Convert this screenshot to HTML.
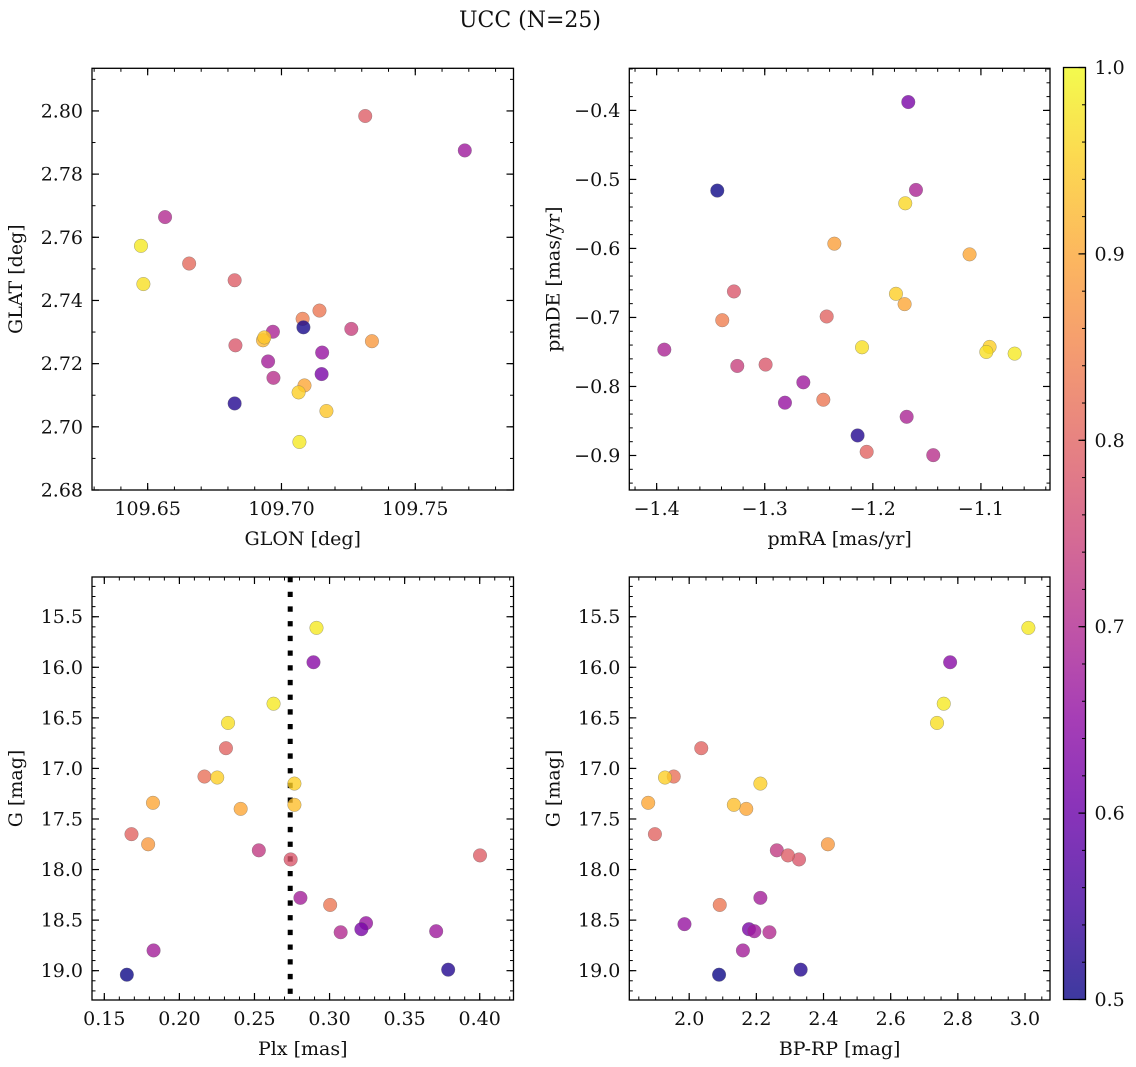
<!DOCTYPE html>
<html><head><meta charset="utf-8"><style>
html,body{margin:0;padding:0;background:#fff;}
svg{display:block;font-family:"DejaVu Serif","Liberation Serif",serif;}
</style></head><body>
<svg id="fig" width="1136" height="1067" viewBox="0 0 1136 1067" xmlns="http://www.w3.org/2000/svg">
<text x="530" y="27" text-anchor="middle" font-size="22" fill="#111">UCC (N=25)</text>
<defs>
<linearGradient id="plasma" x1="0" y1="1" x2="0" y2="0">
<stop offset="0" stop-color="#0d0887"/><stop offset="0.1" stop-color="#41049d"/><stop offset="0.2" stop-color="#6a00a8"/><stop offset="0.3" stop-color="#8f0da4"/><stop offset="0.4" stop-color="#b12a90"/><stop offset="0.5" stop-color="#cc4778"/><stop offset="0.6" stop-color="#e16462"/><stop offset="0.7" stop-color="#f2844b"/><stop offset="0.8" stop-color="#fca636"/><stop offset="0.9" stop-color="#fcce25"/><stop offset="1" stop-color="#f0f921"/>
</linearGradient>
</defs>
</svg>
<script>
// ---- data: panel 1 (GLON vs GLAT)
const glon1 = [109.7313,109.7685,109.6565,109.6475,109.6655,109.6484,109.6825,109.7142,109.7079,109.7082,109.7261,109.6968,109.6828,109.6931,109.6936,109.7338,109.7152,109.6950,109.6970,109.7150,109.7086,109.7064,109.6825,109.7168,109.7067];
const glat1 = [2.7984,2.7875,2.7664,2.7573,2.7517,2.7452,2.7464,2.7368,2.7342,2.7315,2.7310,2.7301,2.7258,2.7274,2.7283,2.7271,2.7235,2.7207,2.7155,2.7167,2.7131,2.7109,2.7074,2.7050,2.6952];
const prob1 = [0.79,0.67,0.70,0.98,0.81,0.97,0.79,0.83,0.84,0.51,0.74,0.69,0.78,0.92,0.94,0.88,0.66,0.68,0.71,0.62,0.90,0.95,0.52,0.94,0.98];
// ---- panel 2 (pmRA vs pmDE)
const pmra2 = [-1.1672,-1.3439,-1.1601,-1.1700,-1.2356,-1.1105,-1.3285,-1.1786,-1.1706,-1.3393,-1.2427,-1.3929,-1.2100,-1.0920,-1.0950,-1.0688,-1.3254,-1.2992,-1.2643,-1.2813,-1.2458,-1.1687,-1.2141,-1.2057,-1.1441];
const pmde2 = [-0.3879,-0.5162,-0.5152,-0.5346,-0.5931,-0.6086,-0.6623,-0.6657,-0.6807,-0.7040,-0.6986,-0.7466,-0.7432,-0.7427,-0.7500,-0.7524,-0.7703,-0.7683,-0.7940,-0.8235,-0.8192,-0.8439,-0.8710,-0.8947,-0.8995];
const prob2 = [0.62,0.50,0.69,0.96,0.89,0.90,0.78,0.95,0.90,0.84,0.80,0.69,0.97,0.95,0.97,0.98,0.74,0.78,0.67,0.66,0.83,0.69,0.52,0.80,0.71];
// ---- panel 3 (Plx vs G)
const plx3 = [0.2913,0.2893,0.2627,0.2324,0.2310,0.2167,0.2252,0.2766,0.1824,0.2408,0.2766,0.1681,0.1792,0.2529,0.2741,0.4002,0.2806,0.3004,0.3243,0.3074,0.3212,0.3710,0.1828,0.1650,0.3790];
const g3 = [15.61,15.95,16.36,16.55,16.80,17.08,17.09,17.15,17.34,17.40,17.36,17.65,17.75,17.81,17.90,17.86,18.28,18.35,18.53,18.62,18.59,18.61,18.80,19.04,18.99];
const prob3 = [0.98,0.64,0.98,0.97,0.80,0.82,0.95,0.95,0.90,0.90,0.93,0.80,0.88,0.73,0.78,0.79,0.68,0.83,0.66,0.70,0.62,0.67,0.68,0.50,0.52];
const plxMean = 0.2738;
// ---- panel 4 (BP-RP vs G)
const bprp4 = [3.010,2.777,2.758,2.738,2.036,1.954,1.928,2.212,1.878,2.170,2.133,1.898,2.413,2.261,2.327,2.294,2.212,2.091,1.986,2.239,2.178,2.194,2.160,2.089,2.332];
const g4 = [15.61,15.95,16.36,16.55,16.80,17.08,17.09,17.15,17.34,17.40,17.36,17.65,17.75,17.81,17.90,17.86,18.28,18.35,18.54,18.62,18.59,18.61,18.80,19.04,18.99];
const prob4 = [0.98,0.64,0.98,0.97,0.80,0.82,0.95,0.95,0.90,0.90,0.93,0.80,0.88,0.73,0.78,0.79,0.68,0.83,0.66,0.70,0.62,0.67,0.68,0.50,0.52];
// ---- ticks
const ticksX1 = [109.65,109.70,109.75];
const ticksY1 = [2.68,2.70,2.72,2.74,2.76,2.78,2.80];
const ticksX2 = [-1.4,-1.3,-1.2,-1.1];
const ticksY2 = [-0.9,-0.8,-0.7,-0.6,-0.5,-0.4];
const ticksX3 = [0.15,0.20,0.25,0.30,0.35,0.40];
const ticksY34 = [15.5,16.0,16.5,17.0,17.5,18.0,18.5,19.0];
const ticksX4 = [2.0,2.2,2.4,2.6,2.8,3.0];
const ticksCB = [0.5,0.6,0.7,0.8,0.9,1.0];

const FS=19;
const NS='http://www.w3.org/2000/svg';
const svg=document.getElementById('fig');
function mk(tag,attrs,parent){const e=document.createElementNS(NS,tag);for(const k in attrs)e.setAttribute(k,attrs[k]);(parent||svg).appendChild(e);return e;}

const stops=[[13,8,135],[65,4,157],[106,0,168],[143,13,164],[177,42,144],[204,71,120],[225,100,98],[242,132,75],[252,166,54],[252,206,37],[240,249,33]];
function plasma(t){t=Math.max(0,Math.min(1,t))*10;const i=Math.min(9,Math.floor(t));const f=t-i;const a=stops[i],b=stops[i+1];return 'rgb('+a.map((v,k)=>Math.round(v+(b[k]-v)*f)).join(',')+')';}
function cnorm(p){return (p-0.5)/0.5;}
const fmt=(v,d)=>{const s=Math.abs(v).toFixed(d);return (v<0?'\u2212':'')+s;};

function panel(o){
  const g=mk('g',{});
  
  
  const sx=v=>o.x0+(v-o.xmin)/(o.xmax-o.xmin)*(o.x1-o.x0);
  const sy=v=>o.inv? o.y0+(v-o.ymin)/(o.ymax-o.ymin)*(o.y1-o.y0) : o.y1-(v-o.ymin)/(o.ymax-o.ymin)*(o.y1-o.y0);
  const eps=1e-9;
  for(let v=Math.ceil(o.xmin/o.xminor)*o.xminor; v<=o.xmax+eps; v+=o.xminor){
    const X=sx(v); if(X<o.x0+0.5||X>o.x1-0.5) continue;
    mk('line',{x1:X,x2:X,y1:o.y1,y2:o.y1-3.5,stroke:'#000','stroke-width':1},g);
    mk('line',{x1:X,x2:X,y1:o.y0,y2:o.y0+3.5,stroke:'#000','stroke-width':1},g);
  }
  for(let v=Math.ceil(o.ymin/o.yminor)*o.yminor; v<=o.ymax+eps; v+=o.yminor){
    const Y=sy(v); if(Y<o.y0+0.5||Y>o.y1-0.5) continue;
    mk('line',{x1:o.x0,x2:o.x0+3.5,y1:Y,y2:Y,stroke:'#000','stroke-width':1},g);
    mk('line',{x1:o.x1,x2:o.x1-3.5,y1:Y,y2:Y,stroke:'#000','stroke-width':1},g);
  }
  o.tx.forEach(v=>{const X=sx(v);
    mk('line',{x1:X,x2:X,y1:o.y1,y2:o.y1-7,stroke:'#000','stroke-width':1.2},g);
    mk('line',{x1:X,x2:X,y1:o.y0,y2:o.y0+7,stroke:'#000','stroke-width':1.2},g);
    const t=mk('text',{x:X,y:o.y1+25,'text-anchor':'middle','font-size':FS,fill:'#111'},g);
    t.textContent=fmt(v,o.xd);
    
    
  });
  o.ty.forEach(v=>{const Y=sy(v);
    mk('line',{x1:o.x0,x2:o.x0+7,y1:Y,y2:Y,stroke:'#000','stroke-width':1.2},g);
    mk('line',{x1:o.x1,x2:o.x1-7,y1:Y,y2:Y,stroke:'#000','stroke-width':1.2},g);
    const t=mk('text',{x:o.x0-9,y:Y+6.5,'text-anchor':'end','font-size':FS,fill:'#111'},g);
    t.textContent=fmt(v,o.yd);
    
    
  });
  if(o.vline!==undefined){
    const l=mk('line',{x1:sx(o.vline),x2:sx(o.vline),y1:o.y0,y2:o.y1,stroke:'#000','stroke-width':5,'stroke-dasharray':'5.3 9.4'},g);
    
    
  }
  o.xs.forEach((v,i)=>{
    const c=mk('circle',{cx:sx(v),cy:sy(o.ys[i]),r:6.8,fill:plasma(cnorm(o.cs[i])),'fill-opacity':0.8,stroke:'#666','stroke-opacity':0.6,'stroke-width':0.5},g);
    
    
  });
  const r=mk('rect',{x:o.x0,y:o.y0,width:o.x1-o.x0,height:o.y1-o.y0,fill:'none',stroke:'#000','stroke-width':1.3},g);
  
  
  const xl=mk('text',{x:(o.x0+o.x1)/2,y:o.y1+55,'text-anchor':'middle','font-size':FS,fill:'#111'},g);
  xl.textContent=o.xlabel;
  
  
  const cy=(o.y0+o.y1)/2, cx=o.x0-70;
  const yl=mk('text',{x:cx,y:cy,'text-anchor':'middle','font-size':FS,fill:'#111',transform:'rotate(-90 '+cx+' '+cy+')'},g);
  yl.textContent=o.ylabel;
  
  
}

panel({name:'glon-glat-panel',x0:92,x1:513.5,y0:68.3,y1:490,xmin:109.6292,xmax:109.7867,ymin:2.68,ymax:2.8135,
  tx:ticksX1,ty:ticksY1,xd:2,yd:2,xminor:0.01,yminor:0.01,xs:glon1,ys:glat1,cs:prob1,xlabel:'GLON [deg]',ylabel:'GLAT [deg]'});
panel({name:'pm-panel',x0:629.3,x1:1050,y0:68.3,y1:490,xmin:-1.4253,xmax:-1.0361,ymin:-0.950,ymax:-0.339,
  tx:ticksX2,ty:ticksY2,xd:1,yd:1,xminor:0.02,yminor:0.02,xs:pmra2,ys:pmde2,cs:prob2,xlabel:'pmRA [mas/yr]',ylabel:'pmDE [mas/yr]'});
panel({name:'plx-g-panel',inv:true,x0:92,x1:513.5,y0:577,y1:1000,xmin:0.1418,xmax:0.4225,ymin:15.107,ymax:19.29,
  tx:ticksX3,ty:ticksY34,xd:2,yd:1,xminor:0.01,yminor:0.1,xs:plx3,ys:g3,cs:prob3,vline:plxMean,xlabel:'Plx [mas]',ylabel:'G [mag]'});
panel({name:'cmd-panel',inv:true,x0:629.3,x1:1050,y0:577,y1:1000,xmin:1.8217,xmax:3.0744,ymin:15.107,ymax:19.29,
  tx:ticksX4,ty:ticksY34,xd:1,yd:1,xminor:0.05,yminor:0.1,xs:bprp4,ys:g4,cs:prob4,xlabel:'BP-RP [mag]',ylabel:'G [mag]'});

const cb=mk('g',{});


const cbx0=1063.5,cbx1=1085.5,cby0=67.5,cby1=999.5;
mk('rect',{x:cbx0,y:cby0,width:cbx1-cbx0,height:cby1-cby0,fill:'url(#plasma)','fill-opacity':0.8},cb);
const cys=v=>cby1-(v-0.5)/0.5*(cby1-cby0);
for(let v=0.52; v<0.999; v+=0.02){const Y=cys(v);
  mk('line',{x1:cbx1,x2:cbx1-3.5,y1:Y,y2:Y,stroke:'#000','stroke-width':1},cb);}
ticksCB.forEach(v=>{const Y=cys(v);
  mk('line',{x1:cbx1,x2:cbx1-7,y1:Y,y2:Y,stroke:'#000','stroke-width':1.2},cb);
  const t=mk('text',{x:cbx1+9,y:Y+6.5,'font-size':FS,fill:'#111'},cb);
  t.textContent=v.toFixed(1);
  
  
});
mk('rect',{x:cbx0,y:cby0,width:cbx1-cbx0,height:cby1-cby0,fill:'none',stroke:'#000','stroke-width':1.3},cb);
</script>
</body></html>
